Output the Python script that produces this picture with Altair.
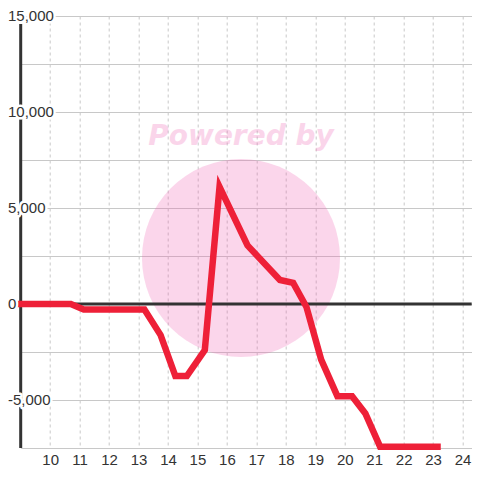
import altair as alt
import pandas as pd

# Series values
x_vals = [9, 10.7, 11.14, 13.2, 13.75, 14.25, 14.64, 15.25, 15.75, 16.7,
          17.8, 18.25, 18.7, 19.2, 19.75, 20.25, 20.7, 21.2, 23.15]
y_vals = [0, 0, -290, -290, -1620, -3750, -3750, -2400, 6100, 3050,
          1250, 1100, -150, -2900, -4800, -4800, -5700, -7430, -7430]

# Axis ticks / labels
x_ticks = list(range(10, 25))
y_grid = [-7500, -5000, -2500, 0, 2500, 5000, 7500, 10000, 12500, 15000]
y_label_values = [15000, 10000, 5000, 0, -5000]
y_label_texts = ["15,000", "10,000", "5,000", "0", "-5,000"]

df = pd.DataFrame({"x": x_vals, "y": y_vals})
lab = pd.DataFrame({"y": y_label_values, "t": y_label_texts})
one = pd.DataFrame({"a": [0]})

X_DOMAIN = [9, 24.31]
Y_DOMAIN = [-7500, 15000]

xscale = alt.Scale(domain=X_DOMAIN, nice=False, zero=False)
yscale = alt.Scale(domain=Y_DOMAIN, nice=False, zero=False)

xaxis = alt.Axis(values=x_ticks, title=None, grid=True, gridDash=[3, 3],
                 gridColor="#c8c8c8", ticks=False, domain=False,
                 labelFontSize=15, labelFont="Liberation Sans",
                 labelColor="#333333", labelPadding=5, format="d")
yaxis = alt.Axis(values=y_grid, title=None, grid=True, gridColor="#c8c8c8",
                 labels=False, ticks=False, domain=False)

pink = "#ef5baf"

wm_circle = alt.Chart(one).mark_point(
    shape="circle", filled=True, size=39204, color=pink, opacity=0.25
).encode(x=alt.value(220.3), y=alt.value(242))

wm_text = alt.Chart(one).mark_text(
    text="Powered by", font="DejaVu Sans", fontSize=28, fontWeight="bold",
    fontStyle="italic", color=pink, opacity=0.25, align="center",
    baseline="alphabetic"
).encode(x=alt.value(220.3), y=alt.value(129))

line = alt.Chart(df).mark_line(
    color="#ee2038", strokeWidth=6.5, strokeCap="square"
).encode(
    x=alt.X("x:Q", scale=xscale, axis=xaxis),
    y=alt.Y("y:Q", scale=yscale, axis=yaxis),
    order="x:Q",
)

zero_rule = alt.Chart(one).mark_rule(color="#333333", strokeWidth=3).encode(
    y=alt.datum(0, scale=yscale)
)

y_axis_line = alt.Chart(one).mark_rule(color="#333333", strokeWidth=3).encode(
    x=alt.value(0), y=alt.value(8), y2=alt.value(432)
)

halo = alt.Chart(lab).mark_text(
    align="left", baseline="middle", fontSize=15, font="Liberation Sans",
    color="white", stroke="white", strokeWidth=5, strokeJoin="round"
).encode(x=alt.value(-12.7), y=alt.Y("y:Q", scale=yscale, axis=yaxis), text="t:N")

labels = alt.Chart(lab).mark_text(
    align="left", baseline="middle", fontSize=15, font="Liberation Sans",
    color="#333333"
).encode(x=alt.value(-12.7), y=alt.Y("y:Q", scale=yscale, axis=yaxis), text="t:N")

chart = alt.layer(
    wm_circle, wm_text, zero_rule, y_axis_line, line, halo, labels
).properties(
    width=451, height=432,
    autosize=alt.AutoSizeParams(type="none"),
    padding={"left": 12.7, "top": 8, "right": 0, "bottom": 32},
    background="white",
).configure_view(stroke=None)

chart.save("out.html", embed_options={"renderer": "svg", "actions": False})
